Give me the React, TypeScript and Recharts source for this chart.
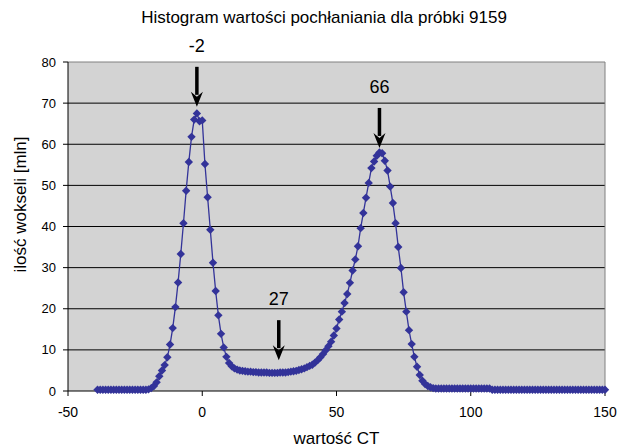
import {
  CartesianGrid,
  Line,
  LineChart,
  ReferenceDot,
  ReferenceLine,
  XAxis,
  YAxis,
} from "recharts";

// histogram bins: one per CT unit, starting at -39
const ctStart = -39;
const voxels = [
  0.3, 0.3, 0.3, 0.3, 0.3, 0.3, 0.3, 0.3, 0.3, 0.3, // -39..-30
  0.3, 0.3, 0.3, 0.3, 0.3, 0.3, 0.3, 0.3, 0.3, 0.4, // -29..-20
  0.7, 1.2, 2.1, 3.6, 5.0, 6.3, 8.2, 11.3, 15.3, 20.4, // -19..-10
  26.4, 33.3, 40.8, 48.7, 55.7, 61.8, 66.0, 67.5, 65.6, 65.8, // -9..0
  55.2, 47.1, 39.2, 31.2, 24.3, 18.4, 13.9, 10.6, 8.3, 6.8, // 1..10
  6.0, 5.5, 5.2, 5.0, 4.9, 4.8, 4.7, 4.7, 4.6, 4.6, // 11..20
  4.5, 4.5, 4.5, 4.5, 4.4, 4.4, 4.4, 4.4, 4.5, 4.5, // 21..30
  4.5, 4.6, 4.7, 4.8, 4.9, 5.1, 5.3, 5.5, 5.8, 6.1, // 31..40
  6.4, 6.9, 7.5, 8.2, 9.0, 9.9, 10.9, 12.0, 13.5, 15.2, // 41..50
  17.4, 19.3, 21.4, 23.6, 26.3, 29.3, 32.0, 35.2, 39.6, 43.3, // 51..60
  47.0, 50.6, 54.2, 55.8, 57.2, 58.0, 57.8, 56.0, 53.6, 49.7, // 61..70
  45.7, 40.8, 35.0, 29.9, 24.0, 19.3, 14.8, 11.4, 8.3, 5.9, // 71..80
  3.9, 2.5, 1.7, 1.2, 0.9, 0.7, 0.6, 0.6, 0.6, 0.6, // 81..90
  0.6, 0.6, 0.6, 0.6, 0.6, 0.6, 0.6, 0.6, 0.6, 0.6, // 91..100
  0.6, 0.6, 0.6, 0.6, 0.6, 0.6, 0.6, 0.3, 0.3, 0.3, // 101..110
  0.3, 0.3, 0.3, 0.3, 0.3, 0.3, 0.3, 0.3, 0.3, 0.3, // 111..120
  0.3, 0.3, 0.3, 0.3, 0.3, 0.3, 0.3, 0.3, 0.3, 0.3, // 121..130
  0.3, 0.3, 0.3, 0.3, 0.3, 0.3, 0.3, 0.3, 0.3, 0.3, // 131..140
  0.3, 0.3, 0.3, 0.3, 0.3, 0.3, 0.3, 0.3, 0.3, 0.3, // 141..150
];

const xTicks = [-50, 0, 50, 100, 150];
const yTicks = [0, 10, 20, 30, 40, 50, 60, 70, 80];
const gridValues = [10, 20, 30, 40, 50, 60, 70];

// arrows: x position, arrow tip (in y units), text
const markX = [-2, 66, 28.5];
const markTip = [69.1, 59.1, 7.5];
const markText = ["-2", "66", "27"];

const data = voxels.map((v, i) => ({ ct: ctStart + i, v }));

const FONT = "'Liberation Sans', Arial, sans-serif";
const NAVY = "#333399";

function Diamond(props: any) {
  const { cx, cy } = props;
  if (cx == null || cy == null) return null;
  const s = 4.2;
  return (
    <path
      key={props.index}
      d={`M${cx},${cy - s}L${cx + s},${cy}L${cx},${cy + s}L${cx - s},${cy}Z`}
      fill={NAVY}
    />
  );
}

function Arrow({ cx, cy, text }: any) {
  if (cx == null || cy == null) return null;
  const top = cy - 40;
  const head = 15;
  return (
    <g>
      <line x1={cx} y1={top} x2={cx} y2={cy - head + 3} stroke="#000" strokeWidth={3.5} />
      <path
        d={`M${cx - 6},${cy - head} L${cx},${cy} L${cx + 6},${cy - head} L${cx},${cy - head + 5} Z`}
        fill="#000"
      />
      <text
        x={cx}
        y={top - 21}
        textAnchor="middle"
        dominantBaseline="central"
        fontSize={18}
        fontFamily={FONT}
        fill="#000"
      >
        {text}
      </text>
    </g>
  );
}

function YLabel({ viewBox }: any) {
  const x = viewBox.x + 20;
  const y = viewBox.y + viewBox.height / 2 - 22;
  return (
    <text
      x={x}
      y={y}
      transform={`rotate(-90, ${x}, ${y})`}
      textAnchor="middle"
      dominantBaseline="central"
      fontSize={17}
      fontFamily={FONT}
      fill="#000"
    >
      ilość wokseli [mln]
    </text>
  );
}

export default function App() {
  return (
    <div style={{ position: "absolute", left: 0, top: 0, width: 618, height: 448, background: "#fff" }}>
      <div
        style={{
          position: "absolute",
          top: 8,
          left: 0,
          width: 618,
          paddingLeft: 30,
          boxSizing: "border-box",
          textAlign: "center",
          fontFamily: FONT,
          fontSize: 17,
          lineHeight: "20px",
          color: "#000",
        }}
      >
        Histogram wartości pochłaniania dla próbki 9159
      </div>
      <LineChart
        width={618}
        height={448}
        data={data}
        margin={{ top: 62, right: 13, left: 0, bottom: 0 }}
      >
        <CartesianGrid
          vertical={false}
          horizontalValues={gridValues}
          stroke="#000"
          fill="#d3d3d3"
          fillOpacity={1}
        />
        <XAxis
          dataKey="ct"
          type="number"
          domain={[-50, 150]}
          ticks={xTicks}
          height={57}
          tickSize={5}
          tickMargin={11}
          stroke="#000"
          tick={{ fill: "#000", fontSize: 14, fontFamily: FONT }}
          label={{ value: "wartość CT", position: "insideBottom", offset: 4, fontSize: 17, fontFamily: FONT, fill: "#000" }}
        />
        <YAxis
          type="number"
          domain={[0, 80]}
          ticks={yTicks}
          width={68}
          tickSize={5}
          tickMargin={7}
          stroke="#000"
          tick={{ fill: "#000", fontSize: 13, fontFamily: FONT }}
          label={<YLabel />}
        />
        <ReferenceLine y={80} stroke="#808080" />
        <ReferenceLine x={150} stroke="#808080" />
        <Line
          dataKey="v"
          type="linear"
          stroke={NAVY}
          strokeWidth={1.3}
          dot={<Diamond />}
          activeDot={false}
          isAnimationActive={false}
        />
        {markX.map((x, i) => (
          <ReferenceDot
            key={markText[i]}
            x={x}
            y={markTip[i]}
            r={0}
            shape={(p: any) => <Arrow {...p} text={markText[i]} />}
          />
        ))}
      </LineChart>
    </div>
  );
}
